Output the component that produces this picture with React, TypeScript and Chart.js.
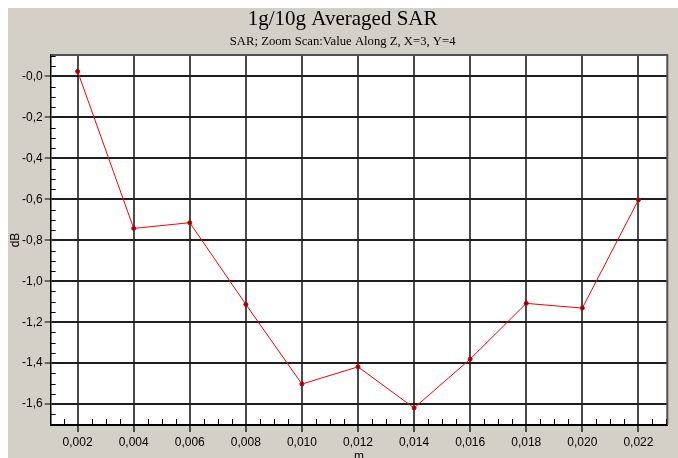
import { useEffect, useRef } from 'react';
import { Chart, registerables } from 'chart.js';

Chart.register(...registerables);

const TITLE = '1g/10g Averaged SAR';
const SUBTITLE = 'SAR; Zoom Scan:Value Along Z, X=3, Y=4';
const X_LABEL = 'm';
const Y_LABEL = 'dB';

const X_VALUES = [0.002, 0.004, 0.006, 0.008, 0.01, 0.012, 0.014, 0.016, 0.018, 0.02, 0.022];
const DB_VALUES = [0.025, -0.742, -0.714, -1.113, -1.502, -1.418, -1.619, -1.38, -1.108, -1.131, -0.603];

const X_TICKS = [0.002, 0.004, 0.006, 0.008, 0.01, 0.012, 0.014, 0.016, 0.018, 0.02, 0.022];
const X_TICK_LABELS = ['0,002', '0,004', '0,006', '0,008', '0,010', '0,012', '0,014', '0,016', '0,018', '0,020', '0,022'];
const Y_TICKS = [0, -0.2, -0.4, -0.6, -0.8, -1.0, -1.2, -1.4, -1.6];
const Y_TICK_LABELS = ['-0,0', '-0,2', '-0,4', '-0,6', '-0,8', '-1,0', '-1,2', '-1,4', '-1,6'];

const X_RANGE = [0.00104, 0.02303];
const Y_RANGE = [-1.702, 0.105];
const X_MINOR_STEP = 0.0005;
const Y_MINOR_STEP = 0.05;

const SANS = 'Liberation Sans, Arial, sans-serif';
const SERIF = 'Liberation Serif, Times New Roman, serif';

const framePlugin = {
  id: 'frame',
  beforeDraw(chart: any) {
    const { ctx, chartArea } = chart;
    const { left, top, right, bottom } = chartArea;
    ctx.save();
    ctx.fillStyle = '#ffffff';
    ctx.fillRect(left, top, right - left, bottom - top);
    ctx.restore();
  },
  beforeDatasetsDraw(chart: any) {
    const { ctx, chartArea } = chart;
    const { left, top, right, bottom } = chartArea;
    const xs = chart.scales.x;
    const ys = chart.scales.y;
    ctx.save();
    ctx.strokeStyle = '#505050';
    ctx.lineWidth = 2;
    ctx.beginPath();
    ctx.moveTo(left, top);
    ctx.lineTo(right, top);
    ctx.lineTo(right, bottom);
    ctx.stroke();
    ctx.strokeStyle = '#000000';
    ctx.lineWidth = 1;
    ctx.beginPath();
    for (let i = Math.ceil(xs.min / X_MINOR_STEP - 1e-6); i * X_MINOR_STEP <= xs.max + 1e-9; i++) {
      if (i % 4 === 0) continue;
      const px = Math.round(xs.getPixelForValue(i * X_MINOR_STEP)) + 0.5;
      ctx.moveTo(px, bottom);
      ctx.lineTo(px, bottom - 6);
    }
    for (let i = Math.ceil(ys.min / Y_MINOR_STEP - 1e-6); i * Y_MINOR_STEP <= ys.max + 1e-9; i++) {
      if (i % 4 === 0) continue;
      const py = Math.round(ys.getPixelForValue(i * Y_MINOR_STEP)) + 0.5;
      ctx.moveTo(left, py);
      ctx.lineTo(left + 5, py);
    }
    ctx.stroke();
    ctx.restore();
  },
};

export default function App() {
  const ref = useRef<HTMLCanvasElement | null>(null);

  useEffect(() => {
    if (!ref.current) return;
    const chart = new Chart(ref.current, {
      type: 'line',
      data: {
        datasets: [
          {
            data: X_VALUES.map((x, i) => ({ x, y: DB_VALUES[i] })),
            borderColor: '#ff0000',
            borderWidth: 1,
            backgroundColor: '#900000',
            pointBackgroundColor: '#900000',
            pointBorderColor: '#d00000',
            pointBorderWidth: 1,
            pointRadius: 2,
            tension: 0,
            fill: false,
          },
        ],
      },
      options: {
        animation: false,
        responsive: true,
        maintainAspectRatio: false,
        devicePixelRatio: 1,
        layout: { padding: { left: 10, right: 10.7, top: 0, bottom: 0 } },
        plugins: {
          legend: { display: false },
          tooltip: { enabled: false },
          title: {
            display: true,
            text: TITLE,
            color: '#000000',
            font: { family: SERIF, size: 21, weight: 'normal', lineHeight: 1 },
            padding: { top: 1, bottom: 2 },
          },
          subtitle: {
            display: true,
            text: SUBTITLE,
            color: '#000000',
            font: { family: SERIF, size: 12.7, weight: 'normal', lineHeight: 1 },
            padding: { top: 3.6, bottom: 6.7 },
          },
        },
        scales: {
          x: {
            type: 'linear',
            position: 'bottom',
            min: X_RANGE[0],
            max: X_RANGE[1],
            afterBuildTicks: (scale: any) => {
              scale.ticks = X_TICKS.map((v) => ({ value: v }));
            },
            afterFit: (scale: any) => {
              scale.height = 33;
            },
            ticks: {
              callback: (_v: any, i: number) => X_TICK_LABELS[i],
              font: { family: SANS, size: 12 },
              color: '#000000',
              padding: 3,
              autoSkip: false,
              maxRotation: 0,
            },
            grid: {
              color: '#4a4a4a',
              lineWidth: 2,
              drawTicks: true,
              tickLength: 7,
              tickColor: '#4a4a4a',
              tickWidth: 2,
            },
            border: { display: true, color: '#000000', width: 2 },
            title: {
              display: true,
              text: X_LABEL,
              color: '#000000',
              font: { family: SANS, size: 12, lineHeight: 1.2 },
              padding: { top: 0, bottom: -5.5 },
            },
          },
          y: {
            type: 'linear',
            min: Y_RANGE[0],
            max: Y_RANGE[1],
            afterBuildTicks: (scale: any) => {
              scale.ticks = Y_TICKS.map((v) => ({ value: v }));
            },
            afterFit: (scale: any) => {
              scale.width = 32.7;
            },
            ticks: {
              callback: (_v: any, i: number) => Y_TICK_LABELS[i],
              font: { family: SANS, size: 12 },
              color: '#000000',
              padding: 2,
              autoSkip: false,
            },
            grid: {
              color: '#1e1e1e',
              lineWidth: 2,
              drawTicks: true,
              tickLength: 6,
              tickColor: '#000000',
              tickWidth: 1,
            },
            border: { display: true, color: '#000000', width: 1.5 },
            title: {
              display: true,
              text: Y_LABEL,
              color: '#000000',
              font: { family: SANS, size: 12, lineHeight: 1.2 },
              padding: { top: -9.7, bottom: 0 },
            },
          },
        },
      },
      plugins: [framePlugin],
    } as any);
    return () => chart.destroy();
  }, []);

  return (
    <div
      style={{
        position: 'fixed',
        left: 8,
        top: 8,
        width: 670,
        height: 450,
        background: '#d4d0c8',
      }}
    >
      <canvas ref={ref} />
    </div>
  );
}
